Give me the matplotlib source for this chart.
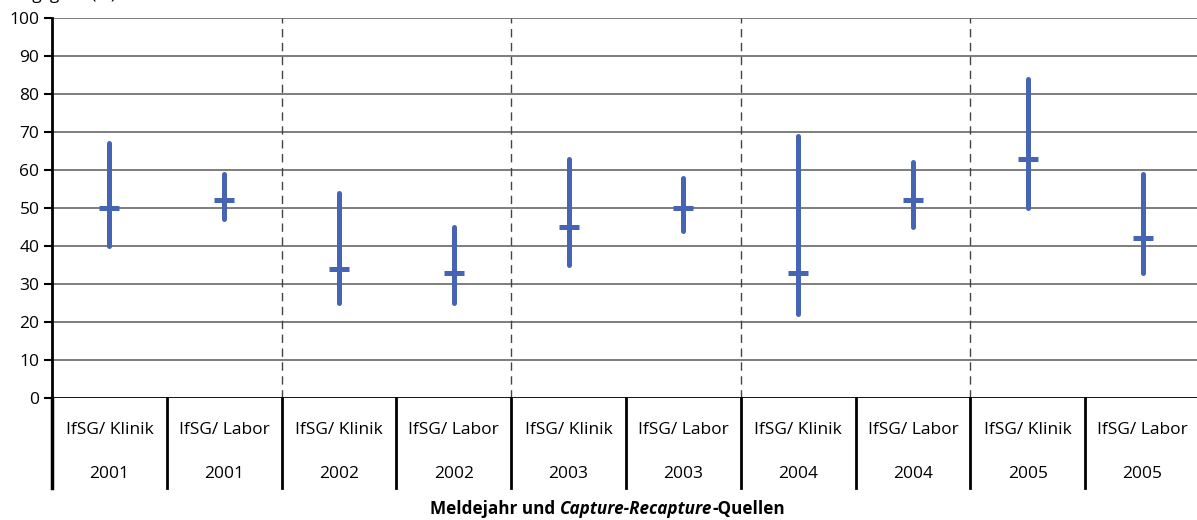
import numpy as np
import matplotlib
matplotlib.use("Agg")
import matplotlib.pyplot as plt

plt.rcParams['font.family'] = ['Open Sans', 'DejaVu Sans']

# data
years = ["2001", "2001", "2002", "2002", "2003", "2003", "2004", "2004", "2005", "2005"]
sources = ["IfSG/ Klinik", "IfSG/ Labor"] * 5
lower = [40, 47, 25, 25, 35, 44, 22, 45, 50, 33]
upper = [67, 59, 54, 45, 63, 58, 69, 62, 84, 59]
estimate = [50, 52, 34, 33, 45, 50, 33, 52, 63, 42]

blue = "#4664b4"
W, H = 1197, 520
fig = plt.figure(figsize=(W/100, H/100), dpi=100)
# axis box: x from 52 px to ~1200 px, y=0 at 398 px, y=100 at 18 px
ax = fig.add_axes([52/W, (H-398)/H, 1148/W, 380/H])

n = len(estimate)
x = np.arange(n) + 0.5
ax.set_xlim(0, n)
ax.set_ylim(0, 100)

# grid
for yv in range(10, 101, 10):
    ax.axhline(yv, color="#5a5a5a", lw=1.1, zorder=1)
ax.axhline(0, color="black", lw=2, zorder=3)
for xv in [2, 4, 6, 8]:
    ax.axvline(xv, color="#444444", lw=1, ls=(0, (6, 4)), zorder=1)

# intervals and point estimates
ax.vlines(x, lower, upper, color=blue, lw=3.6, zorder=4, capstyle="round")
ax.plot(x, estimate, ls="none", marker="_", ms=14.5, mew=3.6, color=blue, zorder=5)

for s in ["top", "right", "bottom"]:
    ax.spines[s].set_visible(False)
ax.spines["left"].set_linewidth(2)
ax.spines["left"].set_bounds(0, 100)
ax.set_xticks([])
ax.set_yticks(range(0, 101, 10))
ax.tick_params(axis="y", length=6, width=1.5, labelsize=12.5, pad=3)

# category table below the axis
py = 100/380.
ybot = -90*py
for xv in range(0, n + 1):
    ax.plot([xv, xv], [0, ybot], color="black", lw=2, clip_on=False, zorder=3)
ax.plot([0, 0], [0, ybot], color="black", lw=2.5, clip_on=False, zorder=3)
for xi, src, yr in zip(x, sources, years):
    ax.text(xi, -32*py, src, ha="center", va="center", fontsize=12.5)
    ax.text(xi, -76*py, yr, ha="center", va="center", fontsize=12.5)

# axis label (mixed bold / bold italic)
t1 = fig.text(430/W, 1 - 518/H, "Meldejahr und ", fontsize=12.3, fontweight="bold", va="bottom")
t2 = ax.annotate("Capture-Recapture", xy=(1, 0), xycoords=t1, fontsize=12.3,
                 fontweight="bold", fontstyle="italic", va="bottom")
t3 = ax.annotate("-Quellen", xy=(1, 0), xycoords=t2, fontsize=12.3,
                 fontweight="bold", va="bottom")

# y axis title, cut at the top edge as in the source
fig.text(116/W, 1 + 1/H, "Erfassungsgrad (%)", fontsize=12.5, ha="right", va="baseline")

fig.savefig("out.png", dpi=100)
